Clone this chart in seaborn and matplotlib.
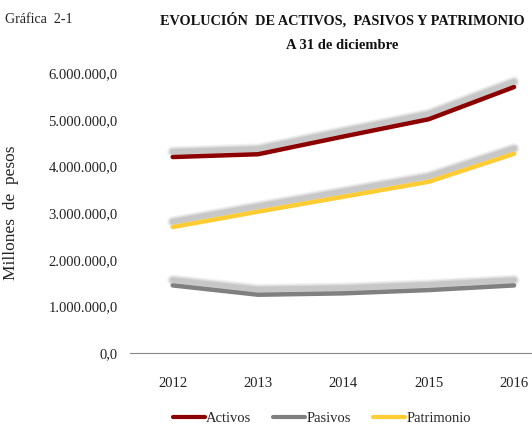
import matplotlib
matplotlib.use("Agg")
import matplotlib.pyplot as plt
import matplotlib.patheffects as pe
import matplotlib.ticker as mticker
import pandas as pd
import seaborn as sns

years = ["2012", "2013", "2014", "2015", "2016"]
activos = [4200000, 4260000, 4640000, 5010000, 5700000]
pasivos = [1450000, 1250000, 1280000, 1350000, 1450000]
patrimonio = [2700000, 3030000, 3350000, 3670000, 4270000]
series = ["Activos", "Pasivos", "Patrimonio"]
colors = {"Activos": "#8c0000", "Pasivos": "#808080", "Patrimonio": "#ffcc33"}

df = pd.DataFrame({
    "anio": years * 3,
    "valor": activos + pasivos + patrimonio,
    "serie": [s for s in series for _ in years],
})

sns.set_theme(style="white")
plt.rcParams["font.family"] = ["Liberation Serif", "DejaVu Serif"]

fig = plt.figure(figsize=(5.32, 4.28), dpi=100)
ax = fig.add_axes([0.2444, 0.175, 0.7556, 0.6544])

sns.lineplot(data=df, x="anio", y="valor", hue="serie", palette=colors,
             linewidth=3.2, ax=ax, sort=False)

# blurred grey shadow drawn above each line
shadow = [
    pe.SimpleLineShadow(offset=(0, 3.8), shadow_color="#b8b8b8", alpha=0.2, rho=1, linewidth=8),
    pe.SimpleLineShadow(offset=(0, 3.8), shadow_color="#b0b0b0", alpha=0.3, rho=1, linewidth=6),
    pe.SimpleLineShadow(offset=(0, 3.8), shadow_color="#a8a8a8", alpha=0.4, rho=1, linewidth=4),
    pe.Normal(),
]
for line in ax.lines:
    line.set_path_effects(shadow)
    line.set_solid_capstyle("round")

ax.set_ylim(0, 6000000)
ax.set_xlim(-0.5, 4.21)
ax.yaxis.set_major_locator(mticker.MultipleLocator(1000000))
ax.yaxis.set_major_formatter(mticker.FuncFormatter(
    lambda v, _: f"{v:,.1f}".replace(",", "X").replace(".", ",").replace("X", ".")))

ax.set_xticks(range(len(years)))
ax.set_xticklabels(years)
ax.set_xticks([-0.5, 0.5, 1.5, 2.5, 3.5], minor=True)
ax.tick_params(axis="x", which="major", length=0, pad=17, labelsize=10.5, colors="#222222")
ax.tick_params(axis="x", which="minor", length=5, width=0.8, color="#888888", direction="out")
ax.tick_params(axis="y", length=0, pad=9, labelsize=10.5, colors="#222222")

for s in ["top", "right", "left"]:
    ax.spines[s].set_visible(False)
ax.spines["bottom"].set_color("#888888")
ax.spines["bottom"].set_linewidth(0.8)

ax.set_xlabel("")
ax.set_ylabel("Millones  de  pesos", fontsize=12.5, color="#222222")
ax.yaxis.set_label_coords(-0.275, 0.5)

handles, labels = ax.get_legend_handles_labels()
leg = fig.legend(handles, labels, loc="center", bbox_to_anchor=(0.605, 0.022), ncol=3,
                 frameon=False, fontsize=10.5, handlelength=2.2, handletextpad=0.1,
                 columnspacing=1.5)
for l in leg.get_lines():
    l.set_path_effects([])
    l.set_linewidth(3)
if ax.get_legend() is not None:
    ax.get_legend().remove()

fig.text(0.01, 0.955, "Gráfica  2-1", fontsize=10, ha="left", va="center", color="#222222")
fig.text(0.643, 0.953, "EVOLUCIÓN  DE ACTIVOS,  PASIVOS Y PATRIMONIO", fontsize=10.3,
         fontweight="bold", ha="center", va="center", color="#111111")
fig.text(0.643, 0.893, "A 31 de diciembre", fontsize=10.5, fontweight="bold",
         ha="center", va="center", color="#111111")

fig.savefig("out.png", dpi=100)
